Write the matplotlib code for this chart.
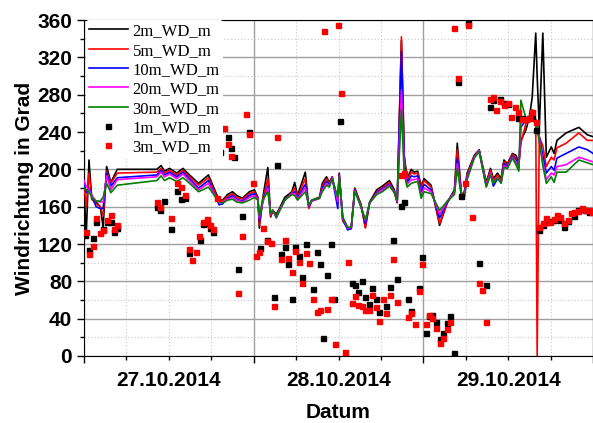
import matplotlib
matplotlib.use("Agg")
import matplotlib.pyplot as plt
import numpy as np

# wind direction, hours since 27.10.2014 00:00
hours = [0.0, 0.3, 0.7, 1.1, 1.7, 2.3, 2.7, 3.2, 3.8, 4.7, 10.3, 10.9, 11.4, 12.1,
         13.1, 14.0, 14.5, 16.2, 17.6, 19.1, 19.6, 20.3, 21.0, 21.6, 22.4, 23.4,
         24.1, 24.6, 24.8, 25.3, 26.0, 26.4, 26.7, 27.2, 27.7, 28.4, 29.4, 29.8,
         30.2, 31.3, 31.8, 32.2, 33.3, 33.7, 34.3, 34.7, 35.1, 35.9, 36.1, 36.6,
         37.3, 37.8, 38.3, 38.7, 39.2, 39.8, 40.4, 41.4, 42.2, 43.2, 43.9, 44.3,
         44.9, 45.3, 45.7, 46.3, 46.7, 47.2, 47.7, 48.1, 49.1, 50.3, 51.4, 52.4,
         52.8, 53.4, 53.8, 54.2, 55.2, 55.9, 56.9, 57.5, 57.9, 58.5, 59.0, 59.4,
         59.9, 60.6, 61.1, 61.5, 61.8, 62.5, 63.0, 63.4, 63.9, 64.1, 64.4, 64.9,
         65.4, 66.1, 66.5, 66.9, 68.2, 70.0, 71.2, 72.0]

wd_2m = [181, 127, 210, 168, 165, 160, 138, 203, 186, 200, 200, 204, 198, 201,
         196, 201, 197, 185, 194, 167, 167, 173, 176, 172, 169, 176,
         178, 170, 137, 170, 202, 149, 156, 152, 159, 170, 176, 186,
         172, 197, 159, 167, 170, 185, 192, 186, 192, 164, 196, 145,
         137, 137, 180, 172, 162, 138, 165, 178, 182, 188, 178, 165,
         338, 215, 190, 200, 197, 198, 182, 190, 183, 140, 165, 178,
         228, 172, 176, 196, 215, 221, 186, 201, 190, 196, 190, 210,
         206, 217, 215, 207, 231, 242, 256, 277, 346, 300, 244, 346,
         213, 224, 217, 231, 239, 245, 237, 235]

wd_5m = [183, 160, 196, 168, 163, 160, 150, 198, 185, 196, 197, 201, 196, 199,
         194, 199, 195, 183, 191, 165, 166, 171, 174, 170, 168, 174,
         176, 169, 140, 168, 190, 150, 156, 150, 158, 167, 175, 180,
         170, 190, 158, 166, 169, 182, 190, 185, 192, 165, 195, 145,
         137, 136, 179, 171, 161, 137, 164, 176, 180, 186, 175, 164,
         342, 212, 188, 197, 195, 196, 180, 188, 181, 142, 164, 177,
         221, 173, 175, 194, 214, 220, 184, 199, 188, 194, 188, 208,
         205, 216, 212, 204, 228, 249, 256, 264, 253, 0, 235, 225,
         203, 213, 210, 223, 228, 239, 231, 231]

wd_10m = [186, 175, 180, 172, 160, 158, 158, 196, 182, 191, 194, 199, 194, 197,
          192, 197, 193, 180, 188, 162, 163, 169, 172, 168, 166, 172,
          174, 167, 145, 166, 182, 152, 156, 148, 157, 167, 174, 176,
          169, 184, 160, 166, 169, 180, 187, 184, 191, 158, 194, 147,
          135, 137, 178, 170, 160, 142, 164, 175, 179, 184, 176, 165,
          326, 205, 186, 193, 192, 193, 176, 184, 178, 148, 165, 176,
          212, 172, 174, 192, 213, 220, 182, 196, 182, 190, 186, 206,
          203, 214, 210, 202, 245, 253, 256, 256, 253, 245, 235, 215,
          196, 203, 199, 212, 217, 224, 221, 217]

wd_20m = [188, 182, 178, 172, 166, 165, 165, 193, 178, 189, 192, 197, 192, 195,
          190, 195, 191, 178, 185, 164, 165, 168, 170, 167, 165, 170,
          172, 168, 148, 165, 180, 152, 156, 149, 157, 167, 174, 174,
          168, 180, 161, 166, 169, 178, 185, 182, 191, 165, 193, 148,
          137, 138, 177, 170, 160, 145, 164, 174, 178, 183, 176, 166,
          285, 200, 184, 189, 189, 190, 172, 180, 176, 152, 166, 175,
          206, 172, 173, 191, 213, 220, 183, 196, 186, 191, 186, 204,
          202, 213, 208, 200, 250, 254, 256, 254, 251, 244, 233, 208,
          189, 196, 194, 203, 205, 213, 210, 208]

wd_30m = [180, 178, 176, 170, 166, 166, 170, 185, 175, 183, 188, 193, 188, 191,
          187, 191, 188, 176, 181, 165, 164, 167, 168, 165, 164, 167,
          170, 167, 150, 168, 176, 153, 156, 149, 156, 167, 173, 172,
          167, 176, 162, 167, 169, 176, 183, 181, 190, 170, 192, 149,
          138, 138, 176, 169, 159, 146, 164, 173, 176, 182, 175, 167,
          264, 195, 181, 185, 186, 187, 169, 176, 174, 156, 166, 173,
          201, 170, 170, 189, 212, 219, 181, 194, 185, 191, 185, 202,
          201, 212, 205, 198, 274, 255, 256, 253, 249, 242, 230, 204,
          185, 192, 186, 197, 197, 210, 207, 205]

# single measurements at 1 m
t_1m = [0.14, 0.71, 1.27, 1.69, 2.68, 3.25, 3.81, 4.24, 4.66, 10.31, 10.73, 11.29,
        12.28, 13.13, 13.69, 14.26, 14.82, 16.38, 16.8, 17.37, 17.79, 18.21, 19.2,
        20.33, 20.75, 21.18, 21.74, 22.31, 23.29, 24.85, 25.84, 26.82, 27.25,
        27.81, 28.38, 28.8, 29.36, 29.79, 30.35, 30.78, 31.34, 32.33, 32.9, 33.32,
        33.74, 34.31, 34.87, 35.3, 36.28, 37.84, 38.4, 38.82, 39.39, 39.81, 40.38,
        40.8, 41.36, 41.79, 42.78, 43.34, 43.77, 44.33, 44.89, 45.32, 45.88, 46.31,
        47.44, 47.86, 48.43, 48.85, 49.27, 49.84, 50.4, 50.83, 51.39, 51.81, 52.38,
        52.94, 53.36, 54.35, 55.91, 56.89, 57.46, 57.88, 58.87, 59.44, 60.0, 61.41,
        61.98, 62.97, 63.39, 63.95, 64.38, 64.94, 65.37, 65.93, 66.5, 66.92, 67.34,
        67.91, 68.47, 69.32, 69.88, 70.45, 70.87, 71.44]
wd_1m = [130, 114, 126, 144, 136, 144, 144, 133, 137, 160, 156, 166,
         136, 177, 168, 169, 110, 124, 141, 142, 137, 133, 219,
         235, 223, 213, 93, 150, 240, 116, 124, 63, 205,
         109, 117, 99, 61, 117, 107, 85, 120, 72, 111, 99,
         19, 87, 120, 61, 252, 78, 76, 69, 80, 63, 56,
         73, 61, 47, 54, 74, 124, 82, 161, 165, 61, 48,
         73, 106, 25, 43, 44, 36, 18, 25, 35, 43, 3,
         294, 171, 357, 100, 76, 267, 274, 275, 271, 270, 255,
         255, 255, 256, 242, 135, 140, 144, 145, 146, 149, 146,
         138, 145, 150, 156, 158, 156, 154]

# single measurements at 3 m
t_3m = [0.28, 0.71, 1.27, 1.69, 2.26, 2.68, 3.25, 3.81, 4.24, 4.66, 10.31, 10.73,
        12.28, 13.13, 13.69, 14.26, 14.82, 15.25, 15.81, 16.24, 16.8, 17.37, 17.79,
        18.21, 18.78, 19.77, 20.33, 20.75, 21.74, 22.31, 22.87, 23.29, 23.86, 24.28,
        24.71, 25.27, 25.84, 26.4, 26.82, 27.25, 27.81, 28.38, 28.8, 29.36, 29.79,
        30.35, 30.78, 31.34, 31.76, 32.33, 32.9, 33.32, 33.88, 34.31, 34.87, 35.44,
        35.86, 36.42, 36.85, 37.41, 37.84, 38.4, 38.82, 39.39, 39.81, 40.38, 40.8,
        41.36, 41.79, 42.35, 42.78, 43.34, 43.77, 44.33, 44.89, 45.32, 45.88, 46.31,
        46.87, 47.44, 47.86, 48.43, 48.85, 49.27, 49.84, 50.4, 50.83, 51.39, 51.81,
        52.38, 52.94, 53.93, 54.35, 54.92, 55.91, 56.33, 56.89, 57.46, 57.88, 58.31,
        58.87, 59.44, 60.0, 60.42, 60.99, 61.41, 61.98, 62.54, 62.97, 63.39, 63.95,
        64.38, 64.94, 65.37, 65.93, 66.5, 66.92, 67.34, 67.91, 68.47, 68.89, 69.32,
        69.88, 70.45, 70.87, 71.44, 71.86]
wd_3m = [133, 109, 118, 148, 132, 135, 146, 151, 136, 140, 165, 160,
         148, 185, 181, 172, 115, 103, 111, 129, 144, 147, 140,
         136, 169, 244, 227, 214, 68, 129, 259, 238, 185, 107,
         111, 137, 123, 121, 54, 235, 104, 124, 105, 90, 112,
         101, 78, 110, 100, 61, 47, 49, 348, 50, 61, 13,
         355, 282, 4, 101, 57, 64, 55, 54, 49, 49, 65,
         53, 38, 61, 46, 65, 104, 58, 194, 196, 42, 46,
         34, 70, 99, 34, 44, 41, 30, 14, 19, 29, 36,
         351, 298, 185, 355, 149, 78, 71, 36, 275, 277, 264,
         273, 269, 271, 256, 267, 261, 254, 254, 255, 261, 251,
         138, 142, 148, 144, 147, 151, 149, 142, 146, 153, 154,
         155, 159, 156, 156, 154]

day_labels = ["27.10.2014", "28.10.2014", "29.10.2014"]

plt.rcParams["font.family"] = "Liberation Sans"
plt.rcParams["font.weight"] = "bold"

fig = plt.figure(figsize=(5.93, 4.23), dpi=100)
ax = fig.add_axes([0.1417, 0.1584, 0.8583, 0.7943])

line_series = [("2m_WD_m", wd_2m, "black"),
               ("5m_WD_m", wd_5m, "#ff0000"),
               ("10m_WD_m", wd_10m, "#0000ff"),
               ("20m_WD_m", wd_20m, "#ff00ff"),
               ("30m_WD_m", wd_30m, "#008000")]
for name, vals, col in line_series:
    ax.plot(hours, vals, color=col, lw=1.2, label=name, zorder=3)

ax.plot(t_1m, wd_1m, "s", color="black", ms=3.6, ls="none", label="1m_WD_m", zorder=4)
ax.plot(t_3m, wd_3m, "s", color="#ff0000", ms=3.6, ls="none", label="3m_WD_m", zorder=4)

ax.set_xlim(0, 72)
ax.set_ylim(0, 360)

# day boundaries as major ticks, date labels in the middle of each day
ax.set_xticks([0, 24, 48, 72])
ax.set_xticklabels([])
minor_x = list(range(6, 72, 6))
ax.set_xticks(minor_x, minor=True)
minor_labels = []
for h in minor_x:
    minor_labels.append(day_labels[h // 24] if h % 24 == 12 else "")
ax.set_xticklabels(minor_labels, minor=True)

ax.set_yticks(np.arange(0, 361, 40))
ax.set_yticks(np.arange(20, 360, 40), minor=True)

ax.tick_params(axis="both", which="major", direction="out", length=5, width=1,
               labelsize=15)
ax.tick_params(axis="x", which="minor", direction="out", length=3, width=1,
               labelsize=15, pad=8)
ax.tick_params(axis="y", which="minor", direction="out", length=3, width=1)
for lbl in ax.get_xticklabels(minor=True) + ax.get_yticklabels():
    lbl.set_fontweight("bold")

ax.grid(True, which="major", color="#a0a0a0", lw=1.0, ls="-", zorder=0)
ax.grid(True, which="minor", color="#c8c8c8", lw=0.8, ls=(0, (1, 2)), zorder=0)
ax.set_axisbelow(True)

ax.set_xlabel("Datum", fontsize=15, fontweight="bold", labelpad=9)
ax.set_ylabel("Windrichtung in Grad", fontsize=15, fontweight="bold", labelpad=2)

leg = ax.legend(loc="upper left", bbox_to_anchor=(-0.003, 1.01), frameon=True,
                prop={"family": "Liberation Serif", "size": 12, "weight": "normal"},
                handlelength=2.3, handletextpad=0.3, labelspacing=0.2,
                borderpad=0.2, borderaxespad=0.2, numpoints=1)
leg.get_frame().set_edgecolor("none")
leg.get_frame().set_facecolor("white")
leg.get_frame().set_alpha(1.0)

fig.savefig("out.png", dpi=100)
